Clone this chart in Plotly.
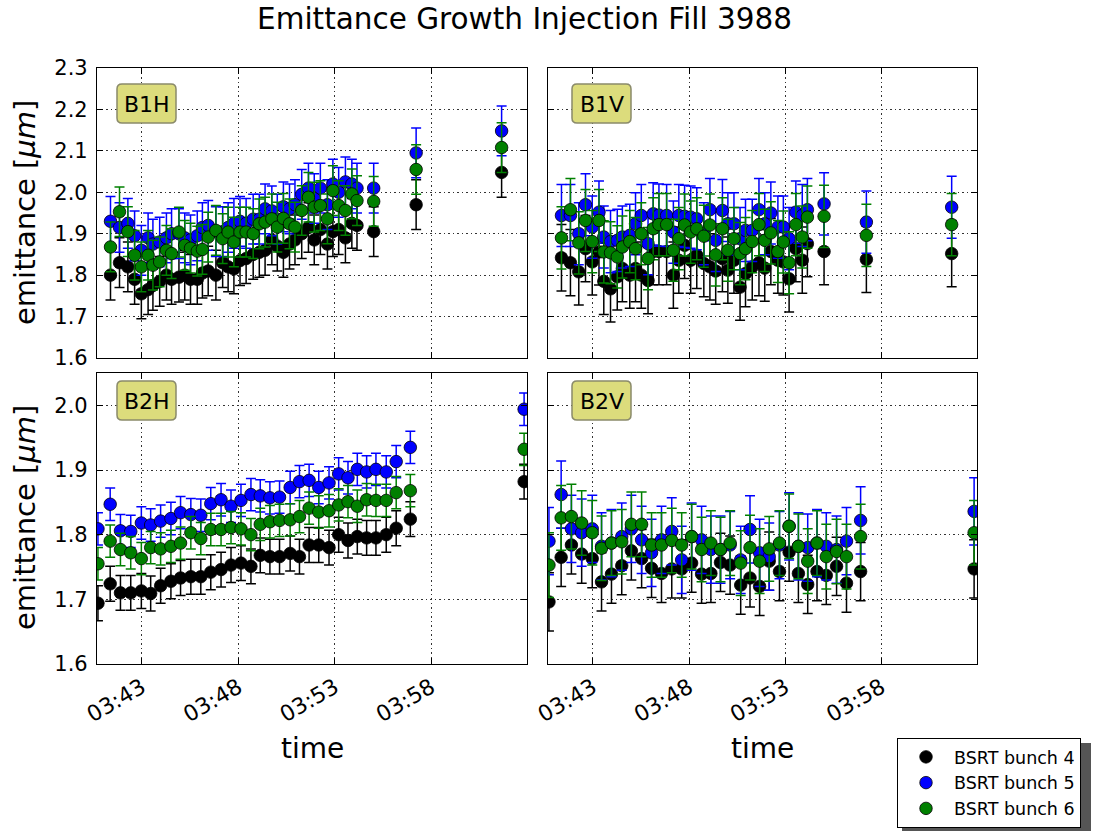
import plotly.graph_objects as go

DATE = "2015-07-20 "

# measurement times (beam 1 and beam 2 BSRT)
T_B1 = ["03:41:22", "03:41:50", "03:42:16", "03:42:37", "03:42:58", "03:43:19", "03:43:34",
        "03:43:55", "03:44:16", "03:44:32", "03:44:55", "03:45:13", "03:45:31", "03:45:52",
        "03:46:08", "03:46:26", "03:46:50", "03:47:11", "03:47:28", "03:47:46", "03:48:05",
        "03:48:24", "03:48:46", "03:49:05", "03:49:23", "03:49:44", "03:50:01", "03:50:20",
        "03:50:39", "03:50:56", "03:51:17", "03:51:38", "03:51:56", "03:52:15", "03:52:37",
        "03:52:54", "03:53:12", "03:53:33", "03:53:53", "03:54:09", "03:55:01", "03:57:13",
        "04:01:39"]
T_B2 = ["03:40:43", "03:41:21", "03:41:53", "03:42:25", "03:42:58", "03:43:27", "03:43:58",
        "03:44:30", "03:45:00", "03:45:32", "03:46:03", "03:46:34", "03:47:06", "03:47:37",
        "03:48:08", "03:48:39", "03:49:08", "03:49:38", "03:50:08", "03:50:41", "03:51:10",
        "03:51:40", "03:52:10", "03:52:42", "03:53:12", "03:53:41", "03:54:10", "03:54:39",
        "03:55:08", "03:55:40", "03:56:11", "03:56:55", "04:02:49"]

# B1H
B1H_4 = [1.80, 1.83, 1.82, 1.79, 1.755, 1.765, 1.775, 1.785, 1.80, 1.79,
         1.795, 1.80, 1.79, 1.79, 1.805, 1.81, 1.80, 1.83, 1.82, 1.815,
         1.835, 1.84, 1.85, 1.855, 1.86, 1.885, 1.87, 1.855, 1.875, 1.885,
         1.90, 1.915, 1.885, 1.91, 1.875, 1.905, 1.91, 1.89, 1.925, 1.92,
         1.905, 1.97, 2.048]
B1H_5 = [1.93, 1.915, 1.925, 1.895, 1.86, 1.89, 1.875, 1.88, 1.89, 1.90,
         1.90, 1.89, 1.885, 1.895, 1.915, 1.92, 1.905, 1.905, 1.915, 1.925,
         1.93, 1.925, 1.935, 1.935, 1.96, 1.955, 1.935, 1.965, 1.96, 1.97,
         1.995, 2.01, 1.985, 2.01, 1.97, 2.02, 2.00, 2.025, 2.02, 2.01,
         2.01, 2.095, 2.148]
B1H_6 = [1.868, 1.953, 1.905, 1.848, 1.82, 1.848, 1.824, 1.832, 1.86, 1.852,
         1.904, 1.872, 1.865, 1.858, 1.862, 1.892, 1.908, 1.888, 1.904, 1.88,
         1.904, 1.904, 1.90, 1.924, 1.928, 1.936, 1.916, 1.937, 1.924, 1.916,
         1.956, 1.988, 1.964, 1.968, 1.936, 2.004, 1.968, 1.956, 1.996, 1.98,
         1.978, 2.055, 2.108]
# B1V
B1V_4 = [1.842, 1.83, 1.808, 1.864, 1.832, 1.856, 1.785, 1.767, 1.796, 1.816,
         1.80, 1.816, 1.80, 1.787, 1.857, 1.857, 1.857, 1.80, 1.836, 1.872,
         1.836, 1.848, 1.828, 1.82, 1.81, 1.84, 1.812, 1.836, 1.771, 1.804,
         1.82, 1.83, 1.817, 1.857, 1.836, 1.832, 1.791, 1.864, 1.836, 1.876,
         1.857, 1.838, 1.852]
B1V_5 = [1.944, 1.944, 1.90, 1.97, 1.916, 1.952, 1.892, 1.881, 1.884, 1.892,
         1.896, 1.924, 1.944, 1.876, 1.948, 1.945, 1.944, 1.904, 1.944, 1.942,
         1.94, 1.936, 1.90, 1.958, 1.884, 1.956, 1.924, 1.924, 1.888, 1.908,
         1.908, 1.958, 1.924, 1.95, 1.916, 1.916, 1.888, 1.952, 1.944, 1.958,
         1.972, 1.928, 1.964]
B1V_6 = [1.89, 1.958, 1.878, 1.932, 1.881, 1.932, 1.856, 1.854, 1.844, 1.868,
         1.881, 1.864, 1.90, 1.84, 1.912, 1.922, 1.922, 1.86, 1.888, 1.921,
         1.904, 1.912, 1.894, 1.921, 1.849, 1.912, 1.86, 1.888, 1.852, 1.864,
         1.881, 1.922, 1.884, 1.902, 1.857, 1.88, 1.83, 1.922, 1.892, 1.94,
         1.942, 1.896, 1.922]
# B2H
B2H_4 = [1.694, 1.724, 1.71, 1.71, 1.713, 1.709, 1.721, 1.728, 1.733, 1.735,
         1.735, 1.742, 1.746, 1.753, 1.756, 1.751, 1.768, 1.766, 1.766, 1.771,
         1.766, 1.784, 1.784, 1.78, 1.80, 1.791, 1.797, 1.795, 1.795, 1.80,
         1.81, 1.824, 1.882]
B2H_5 = [1.809, 1.847, 1.806, 1.805, 1.818, 1.815, 1.821, 1.825, 1.834, 1.831,
         1.83, 1.848, 1.854, 1.844, 1.853, 1.862, 1.86, 1.857, 1.858, 1.873,
         1.882, 1.884, 1.873, 1.88, 1.894, 1.888, 1.901, 1.897, 1.901, 1.897,
         1.913, 1.935, 1.994]
B2H_6 = [1.755, 1.79, 1.777, 1.772, 1.763, 1.78, 1.778, 1.782, 1.787, 1.803,
         1.794, 1.808, 1.808, 1.811, 1.809, 1.80, 1.816, 1.82, 1.822, 1.823,
         1.828, 1.841, 1.835, 1.837, 1.846, 1.851, 1.844, 1.854, 1.853, 1.853,
         1.865, 1.868, 1.932]
# B2V
B2V_4 = [1.696, 1.765, 1.784, 1.77, 1.763, 1.727, 1.739, 1.752, 1.775, 1.763,
         1.748, 1.74, 1.747, 1.747, 1.756, 1.739, 1.74, 1.757, 1.753, 1.722,
         1.733, 1.72, 1.759, 1.743, 1.773, 1.74, 1.723, 1.743, 1.737, 1.751,
         1.725, 1.743, 1.747]
B2V_5 = [1.79, 1.862, 1.809, 1.803, 1.809, 1.782, 1.787, 1.797, 1.809, 1.792,
         1.772, 1.792, 1.805, 1.761, 1.797, 1.792, 1.777, 1.777, 1.784, 1.761,
         1.808, 1.772, 1.766, 1.784, 1.813, 1.782, 1.78, 1.787, 1.782, 1.777,
         1.79, 1.822, 1.836]
B2V_6 = [1.753, 1.826, 1.828, 1.818, 1.803, 1.779, 1.787, 1.789, 1.816, 1.816,
         1.784, 1.784, 1.791, 1.784, 1.797, 1.777, 1.787, 1.777, 1.787, 1.756,
         1.78, 1.759, 1.778, 1.787, 1.813, 1.782, 1.759, 1.787, 1.766, 1.774,
         1.766, 1.797, 1.803]

# typical symmetric errors per panel, per bunch (4, 5, 6)
ERR_B1H = [0.06, 0.06, 0.06]
ERR_B1V = [0.08, 0.075, 0.075]
ERR_B2H = [0.027, 0.025, 0.025]
ERR_B2V = [0.045, 0.052, 0.05]

BUNCH_NAMES = ["BSRT bunch 4", "BSRT bunch 5", "BSRT bunch 6"]
COLORS = ["#000000", "#0000ff", "#008000"]
PANEL_LABELS = ["B1H", "B1V", "B2H", "B2V"]
XTICKS = ["03:43", "03:48", "03:53", "03:58"]
YTICKS_TOP = [1.6, 1.7, 1.8, 1.9, 2.0, 2.1, 2.2, 2.3]
YTICKS_BOT = [1.6, 1.7, 1.8, 1.9, 2.0]

W, H = 1093, 831
FONT = "DejaVu Sans"


def px(x):
    return x / W


def py(y):
    return 1 - y / H


panels = [
    (T_B1, [B1H_4, B1H_5, B1H_6], ERR_B1H, "x", "y"),
    (T_B1, [B1V_4, B1V_5, B1V_6], ERR_B1V, "x2", "y2"),
    (T_B2, [B2H_4, B2H_5, B2H_6], ERR_B2H, "x3", "y3"),
    (T_B2, [B2V_4, B2V_5, B2V_6], ERR_B2V, "x4", "y4"),
]

fig = go.Figure()
for pi, (times, series, errs, xa, ya) in enumerate(panels):
    xs = [DATE + t for t in times]
    for si, vals in enumerate(series):
        fig.add_trace(go.Scatter(
            x=xs, y=vals, mode="markers", xaxis=xa, yaxis=ya,
            name=BUNCH_NAMES[si], legendgroup=BUNCH_NAMES[si], showlegend=(pi == 0),
            marker=dict(color=COLORS[si], size=12.5, line=dict(color="black", width=0.8)),
            error_y=dict(type="constant", value=errs[si], color=COLORS[si],
                         thickness=1.5, width=5),
        ))

axis_common = dict(showline=True, linecolor="black", linewidth=1.2, mirror="allticks",
                   ticks="inside", ticklen=6, tickcolor="black", showgrid=True,
                   gridcolor="#333333", griddash="1.5px,3px", gridwidth=1, zeroline=False,
                   automargin=False)

xrange = [DATE + "03:40:40", DATE + "04:02:58"]
xdoms = [[px(97), px(527)], [px(548), px(977)]]
ydoms = [[py(358), py(68)], [py(664), py(373)]]

layout = dict(
    width=W, height=H, margin=dict(l=0, r=0, t=0, b=0, autoexpand=False),
    paper_bgcolor="white", plot_bgcolor="white",
    font=dict(family=FONT, color="black"),
    legend=dict(x=px(897), y=py(738), xanchor="left", yanchor="top",
                bgcolor="white", bordercolor="black", borderwidth=1,
                font=dict(family=FONT, size=17.5, color="black"),
                itemwidth=46, tracegroupgap=0),
)
for i in range(4):
    row, col = divmod(i, 2)
    xkey = "xaxis" if i == 0 else f"xaxis{i+1}"
    ykey = "yaxis" if i == 0 else f"yaxis{i+1}"
    layout[xkey] = dict(axis_common, type="date", range=xrange, domain=xdoms[col],
                        anchor="y" if i == 0 else f"y{i+1}",
                        tickvals=[DATE + t for t in XTICKS], ticktext=XTICKS,
                        tickangle=-30, showticklabels=(row == 1), ticklabelstandoff=1,
                        tickfont=dict(family=FONT, size=22, color="black"))
    layout[ykey] = dict(axis_common, domain=ydoms[row],
                        anchor="x" if i == 0 else f"x{i+1}",
                        range=[1.6, 2.3] if row == 0 else [1.6, 2.05],
                        tickvals=YTICKS_TOP if row == 0 else YTICKS_BOT,
                        tickformat=".1f", showticklabels=(col == 0), ticklabelstandoff=4,
                        tickfont=dict(family=FONT, size=21, color="black"))
fig.update_layout(**layout)

ann = []
ann.append(dict(text="Emittance Growth Injection Fill 3988", x=px(524), y=1.0,
                xref="paper", yref="paper", showarrow=False,
                xanchor="center", yanchor="top",
                font=dict(family=FONT, size=29.5, color="black")))
for yc in [213, 518]:
    ann.append(dict(text="emittance [<i>μm</i>]", x=px(25), y=py(yc), xref="paper",
                    yref="paper", showarrow=False, textangle=-90,
                    xanchor="center", yanchor="middle",
                    font=dict(family=FONT, size=29, color="black")))
for xc in [312, 762]:
    ann.append(dict(text="time", x=px(xc), y=py(748), xref="paper", yref="paper",
                    showarrow=False, xanchor="center", yanchor="middle",
                    font=dict(family=FONT, size=28, color="black")))

# panel label boxes (rounded, khaki) with text on top
label_boxes = [(117, 84, 176, 123), (572, 84, 631, 123), (117, 381, 176, 420), (572, 381, 631, 420)]
shapes = []
for lab, (x0, y0, x1, y1) in zip(PANEL_LABELS, label_boxes):
    r = 5
    pts = [
        ("M", x0 + r, y0), ("L", x1 - r, y0), ("Q", x1, y0, x1, y0 + r),
        ("L", x1, y1 - r), ("Q", x1, y1, x1 - r, y1), ("L", x0 + r, y1),
        ("Q", x0, y1, x0, y1 - r), ("L", x0, y0 + r), ("Q", x0, y0, x0 + r, y0),
    ]
    path = ""
    for p in pts:
        cmd, coords = p[0], p[1:]
        xy = []
        for k in range(0, len(coords), 2):
            xy.append(f"{px(coords[k]):.5f},{py(coords[k+1]):.5f}")
        path += cmd + " " + " ".join(xy) + " "
    shapes.append(dict(type="path", path=path + "Z", xref="paper", yref="paper",
                       fillcolor="#dcdc7c", line=dict(color="#8a8a6a", width=1.5),
                       layer="above"))
    ann.append(dict(text=lab, x=px((x0 + x1) / 2), y=py((y0 + y1) / 2 + 1),
                    xref="paper", yref="paper", showarrow=False,
                    xanchor="center", yanchor="middle",
                    font=dict(family=FONT, size=22, color="black")))

# legend drop shadow
shapes.append(dict(type="rect", xref="paper", yref="paper", x0=px(902), x1=px(1091),
                   y0=py(831), y1=py(743), fillcolor="#555555", line=dict(width=0),
                   layer="below"))
fig.update_layout(annotations=ann, shapes=shapes)

fig.write_html("out.html", config={"displayModeBar": False},
               post_script="document.body.style.margin='0';")
